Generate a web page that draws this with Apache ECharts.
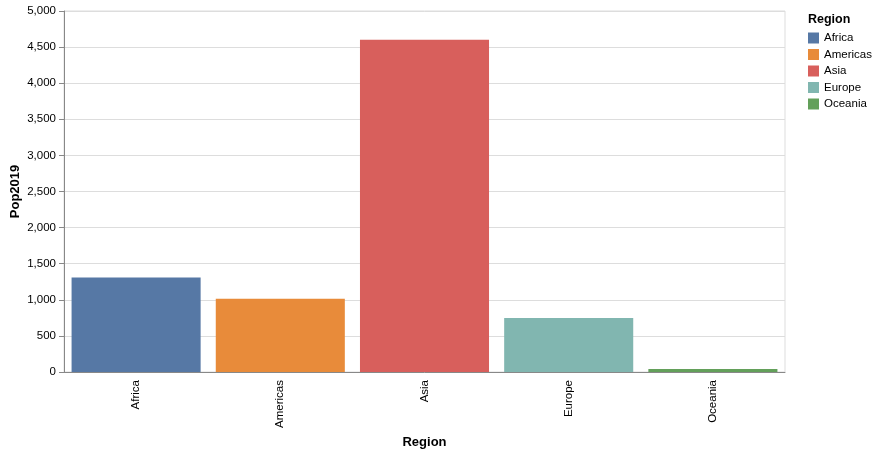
<!DOCTYPE html>
<html>
<head>
<meta charset="utf-8">
<script src="https://cdn.jsdelivr.net/npm/echarts@6/dist/echarts.min.js"></script>
<style>html,body{margin:0;padding:0;background:#fff}#c{width:880px;height:454px}</style>
</head>
<body>
<div id="c"></div>
<script>
const regions = ['Africa', 'Americas', 'Asia', 'Europe', 'Oceania'];
const pop2019 = [1308, 1015, 4601, 747, 42];
const colors = ['#5678a5', '#e88b3a', '#d85f5c', '#81b6b0', '#63a05a'];
const yTicks = { min: 0, max: 5000, interval: 500 };

const font = 'Liberation Sans, Arial, Helvetica, sans-serif';
const series = regions.map((r, i) => ({
  name: r,
  type: 'bar',
  stack: 'all',
  barWidth: '89.5%',
  data: regions.map((_, j) => (j === i ? pop2019[i] : '-')),
  itemStyle: { color: colors[i] },
  emphasis: { disabled: true }
}));

const chart = echarts.init(document.getElementById('c'), null, { renderer: 'canvas' });
chart.setOption({
  animation: false,
  textStyle: { fontFamily: font },
  title: {
    text: 'Region', left: 803, top: 8,
    textStyle: { fontFamily: font, fontSize: 12.5, fontWeight: 'bold', color: '#000' }
  },
  legend: {
    orient: 'vertical', left: 803, top: 27,
    icon: 'rect', itemWidth: 11, itemHeight: 11, itemGap: 4.5,
    textStyle: { fontFamily: font, fontSize: 11.5, color: '#000' },
    data: regions
  },
  grid: { left: 64, right: 95, top: 11, bottom: 82, containLabel: false, outerBoundsMode: 'none',
    show: true, borderColor: '#ddd', borderWidth: 1 },
  xAxis: {
    type: 'category',
    data: regions,
    name: 'Region', nameLocation: 'middle', nameGap: 64, nameMoveOverlap: false,
    nameTextStyle: { fontFamily: font, fontSize: 13, fontWeight: 'bold', color: '#000' },
    axisLine: { lineStyle: { color: '#888' } },
    axisTick: { alignWithLabel: true, length: 5, lineStyle: { color: '#888' } },
    axisLabel: { rotate: 90, fontSize: 11.5, color: '#000', margin: 8, fontFamily: font }
  },
  yAxis: {
    type: 'value',
    min: yTicks.min, max: yTicks.max, interval: yTicks.interval,
    name: 'Pop2019', nameLocation: 'middle', nameGap: 42, nameMoveOverlap: false,
    nameTextStyle: { fontFamily: font, fontSize: 13, fontWeight: 'bold', color: '#000' },
    axisLine: { show: true, lineStyle: { color: '#888' } },
    axisTick: { show: true, length: 5, lineStyle: { color: '#888' } },
    axisLabel: { fontSize: 11.5, color: '#000', margin: 8, fontFamily: font,
      formatter: v => v.toLocaleString('en-US') },
    splitLine: { lineStyle: { color: '#ddd' } }
  },
  series: series
});
</script>
</body>
</html>
